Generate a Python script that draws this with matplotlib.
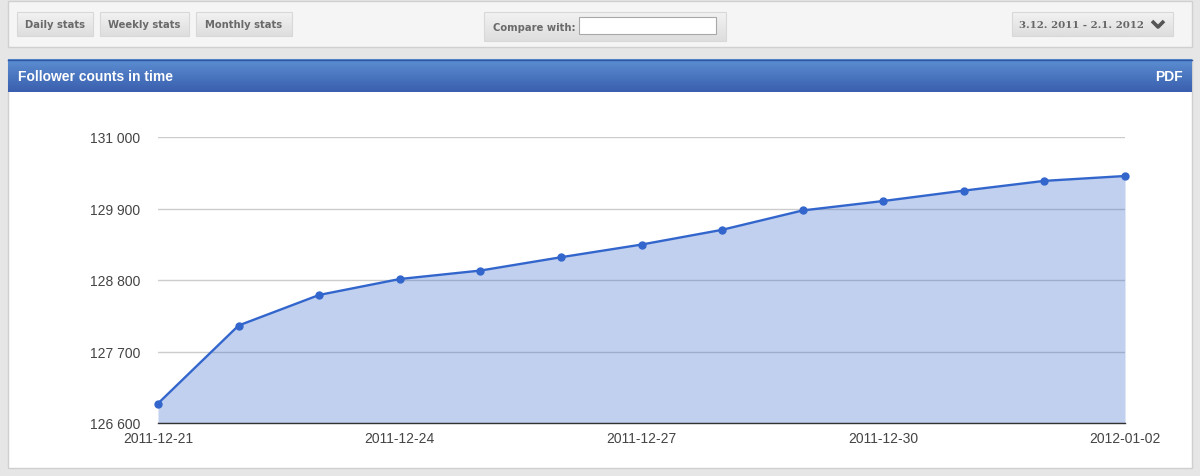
import numpy as np
import matplotlib
matplotlib.use("Agg")
import matplotlib.pyplot as plt
import matplotlib.dates as mdates
from matplotlib.patches import Rectangle
from matplotlib.ticker import FuncFormatter

# data
dates = ["2011-12-21", "2011-12-22", "2011-12-23", "2011-12-24", "2011-12-25",
         "2011-12-26", "2011-12-27", "2011-12-28", "2011-12-29", "2011-12-30",
         "2011-12-31", "2012-01-01", "2012-01-02"]
followers = [126900, 128100, 128570, 128815, 128945, 129150, 129345,
             129572, 129870, 130015, 130175, 130325, 130400]
y_ticks = [126600, 127700, 128800, 129900, 131000]
x_ticks = ["2011-12-21", "2011-12-24", "2011-12-27", "2011-12-30", "2012-01-02"]
buttons = ["Daily stats", "Weekly stats", "Monthly stats"]
date_range = "3.12. 2011 - 2.1. 2012"

plt.rcParams['font.family'] = ['Liberation Sans', 'DejaVu Sans']

W, H = 1200, 477
fig = plt.figure(figsize=(W / 100, H / 100), dpi=100)
fig.patch.set_facecolor("#e6e6e6")

# overlay axes in pixel coordinates for the page chrome
ui = fig.add_axes([0, 0, 1, 1])
ui.set_xlim(0, W)
ui.set_ylim(H, 0)
ui.axis("off")

# toolbar panel
ui.add_patch(Rectangle((8, 2), 1184, 46, facecolor="#f5f5f5", edgecolor="#d0d0d0", lw=1))


def button(x, y, w, h, label, size=7.2):
    ui.add_patch(Rectangle((x + 1, y + 1), w, h, facecolor="#d2d2d2", edgecolor="none"))
    grad = np.linspace(0, 1, 20).reshape(-1, 1)
    ui.imshow(grad, cmap=matplotlib.colors.LinearSegmentedColormap.from_list(
        "b", ["#f2f2f2", "#dedede"]), extent=(x, x + w, y + h, y), aspect="auto", zorder=2)
    ui.add_patch(Rectangle((x, y), w, h, facecolor="none", edgecolor="#d8d8d8", lw=0.8, zorder=3))
    if label:
        ui.text(x + w / 2, y + h / 2 + 0.5, label, ha="center", va="center", color="#6a6a6a",
                fontsize=size, fontweight="bold", family="DejaVu Sans", zorder=4)


bx = [17, 100, 196]
bw = [76, 89, 96]
for x, w, lab in zip(bx, bw, buttons):
    button(x, 13, w, 24, lab)

# compare with box
button(484, 13, 242, 29, "")
ui.text(534, 28, "Compare with:", ha="center", va="center", color="#6a6a6a",
        fontsize=7.2, fontweight="bold", family="DejaVu Sans", zorder=4)
ui.add_patch(Rectangle((579, 18), 137, 17, facecolor="white", edgecolor="#a8a8a8", lw=0.8, zorder=4))

# date range dropdown
button(1012, 13, 161, 24, "")
ui.text(1019, 25.5, date_range, ha="left", va="center", color="#666666",
        fontsize=7.4, fontweight="bold", family="DejaVu Serif", zorder=4)
ui.plot([1152, 1158, 1164], [22, 28, 22], color="#555555", lw=2.6, zorder=4,
        solid_capstyle="butt")

# white chart panel
ui.add_patch(Rectangle((8, 60), 1184, 409, facecolor="white", edgecolor="#cfcfcf", lw=1))

# blue header bar with gradient
hgrad = np.linspace(0, 1, 40).reshape(-1, 1)
ui.imshow(hgrad, cmap=matplotlib.colors.LinearSegmentedColormap.from_list(
    "h", ["#5c8ed2", "#3a5fae"]), extent=(8, 1192, 93, 60), aspect="auto", zorder=2)
ui.plot([8, 1192], [60.5, 60.5], color="#2f56a3", lw=1, zorder=3)
ui.text(18, 77, "Follower counts in time", color="white", fontsize=10,
        fontweight="bold", ha="left", va="center", zorder=4)
ui.text(1183, 77, "PDF", color="white", fontsize=10, fontweight="bold",
        ha="right", va="center", zorder=4)

# chart axes
left, right, top, bottom = 158, 1125, 138, 424
ax = fig.add_axes([left / W, 1 - bottom / H, (right - left) / W, (bottom - top) / H])
ax.set_facecolor("none")

x = np.array(dates, dtype="datetime64[D]").astype("datetime64[ns]")
x = mdates.date2num(x)
ax.fill_between(x, y_ticks[0], followers, color="#3366cc", alpha=0.3, lw=0, zorder=2)
ax.plot(x, followers, color="#3366cc", lw=1.7, marker="o", markersize=5, zorder=3,
        clip_on=False)

ax.set_xlim(x[0], x[-1])
ax.set_ylim(y_ticks[0], y_ticks[-1])
ax.set_yticks(y_ticks)
ax.yaxis.set_major_formatter(FuncFormatter(lambda v, p: f"{int(v):,}".replace(",", " ")))
xt = mdates.date2num(np.array(x_ticks, dtype="datetime64[D]").astype("datetime64[ns]"))
ax.set_xticks(xt)
ax.set_xticklabels(x_ticks)

ax.grid(axis="y", color="#cccccc", lw=1, zorder=1)
ax.set_axisbelow(True)
for s in ["top", "right", "left"]:
    ax.spines[s].set_visible(False)
ax.spines["bottom"].set_color("#333333")
ax.spines["bottom"].set_linewidth(1)
ax.spines["bottom"].set_zorder(4)
ax.tick_params(length=0, labelsize=10, colors="#444444")
ax.tick_params(axis="y", pad=13)
ax.tick_params(axis="x", pad=6)

fig.savefig("out.png", dpi=100)
